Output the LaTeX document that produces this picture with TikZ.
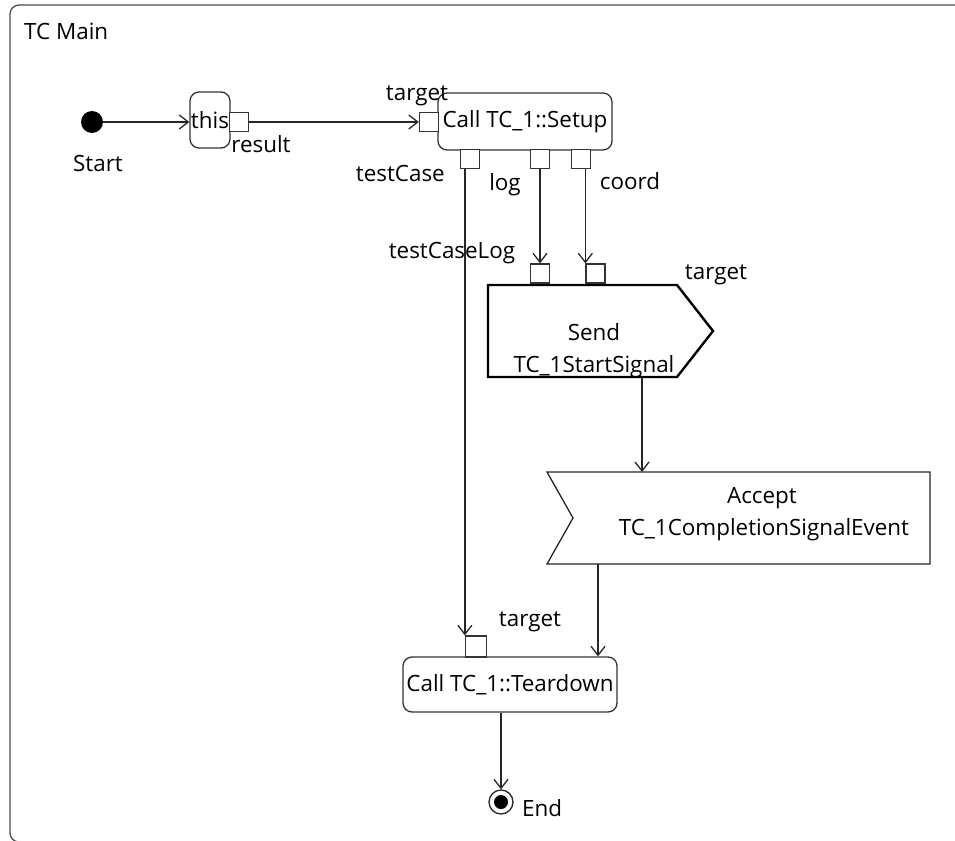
\documentclass[tikz,border=0pt]{standalone}
\usepackage{fontspec}
\setmainfont{Open Sans}
\usetikzlibrary{arrows.meta,calc}

\tikzset{
  base/.style={font=\fontsize{22.4}{25}\selectfont, text=black},
  flow/.style={draw=black!85, line width=1.3pt, -{Straight Barb[length=9pt,width=14pt,line width=1.3pt]}},
  action/.style={base, draw=black!80, line width=1.3pt, rounded corners=9pt, inner sep=0pt, fill=white},
  pin/.style={draw=black!80, line width=1.3pt, fill=white, inner sep=0pt, minimum width=19pt, minimum height=19pt},
  lbl/.style={base, inner sep=0pt},
  frame/.style={draw=black!70, line width=1.3pt, rounded corners=9pt}
}

\begin{document}
\begin{tikzpicture}[x=1pt,y=-1pt]
\useasboundingbox (0,0) rectangle (955,840);

% activity frame
\draw[frame] (10,5) rectangle (1000,842);
\node[lbl, anchor=west] (title) at (24,31) {TC Main};

% initial node
\node[circle, fill=black, minimum size=22pt, inner sep=0pt] (start) at (92,122) {};
\node[lbl] (startlbl) at (98,163) {Start};

% "this" action with result pin
\node[action, minimum width=40pt, minimum height=56pt] (this) at (210,120) {this};
\node[pin] (resultpin) at (239,122) {};
\node[lbl] (resultlbl) at (261,144) {result};

% Call TC_1::Setup
\node[action, minimum width=174pt, minimum height=57pt] (setup) at (525,121.5) {Call TC\_1::Setup};
\node[pin] (setuptarget) at (429,122) {};
\node[lbl] (setuptargetlbl) at (417,96) {target};
\node[pin] (tcpin) at (470,159) {};
\node[pin] (logpin) at (540,159) {};
\node[pin] (coordpin) at (581,159) {};
\node[lbl, anchor=east] (tclbl) at (445,173) {testCase};
\node[lbl] (loglbl) at (505,185) {log};
\node[lbl] (coordlbl) at (630,181) {coord};
\node[lbl] (tcloglbl) at (452,253) {testCaseLog};

% Send signal action
\draw[draw=black, line width=2.4pt, fill=white, line join=miter]
  (488,285) -- (677,285) -- (713,331) -- (677,377) -- (488,377) -- cycle;
\node[lbl] (send) at (594,332) {Send};
\node[lbl] (sendsig) at (594,367) {TC\_1StartSignal};
\node[pin] (sendlog) at (540,273.5) {};
\node[pin] (sendcoord) at (595.5,273.5) {};
\node[lbl] (sendtargetlbl) at (716,275) {target};
\coordinate (sendout) at (642,377);

% Accept event action
\draw[draw=black!85, line width=1.3pt, fill=white]
  (547,472) -- (930,472) -- (930,564) -- (547,564) -- (573,518) -- cycle;
\node[lbl] (accept) at (762,498) {Accept};
\node[lbl] (acceptevt) at (764,530) {TC\_1CompletionSignalEvent};
\coordinate (acceptin) at (642,472);
\coordinate (acceptout) at (598,564);

% Call TC_1::Teardown
\node[action, minimum width=214pt, minimum height=55pt] (teardown) at (510,684.5) {Call TC\_1::Teardown};
\node[pin, minimum width=21pt, minimum height=21pt] (tdpin) at (476,646.5) {};
\node[lbl] (tdtargetlbl) at (530,622) {target};

% final node
\node[circle, draw=black!85, line width=1.3pt, fill=white, minimum size=24pt, inner sep=0pt] (end) at (501,802) {};
\node[circle, fill=black, minimum size=14pt, inner sep=0pt] (enddot) at (end.center) {};
\node[lbl, anchor=west] (endlbl) at (522,808) {End};

% flows
\draw[flow] (start.east) -- (start.east -| this.west);
\draw[flow] (resultpin.east) -- (setuptarget.west);
\draw[flow] (tcpin.south -| tdpin.west) -- (tdpin.north west);
\draw[flow] (logpin.south) -- (sendlog.north);
\draw[flow] (coordpin.south -| sendcoord.west) -- (sendcoord.north west);
\draw[flow] (sendout) -- (acceptin);
\draw[flow] (acceptout) -- (acceptout |- teardown.north);
\draw[flow] (teardown.south -| end.north) -- (end.north);
\end{tikzpicture}
\end{document}
